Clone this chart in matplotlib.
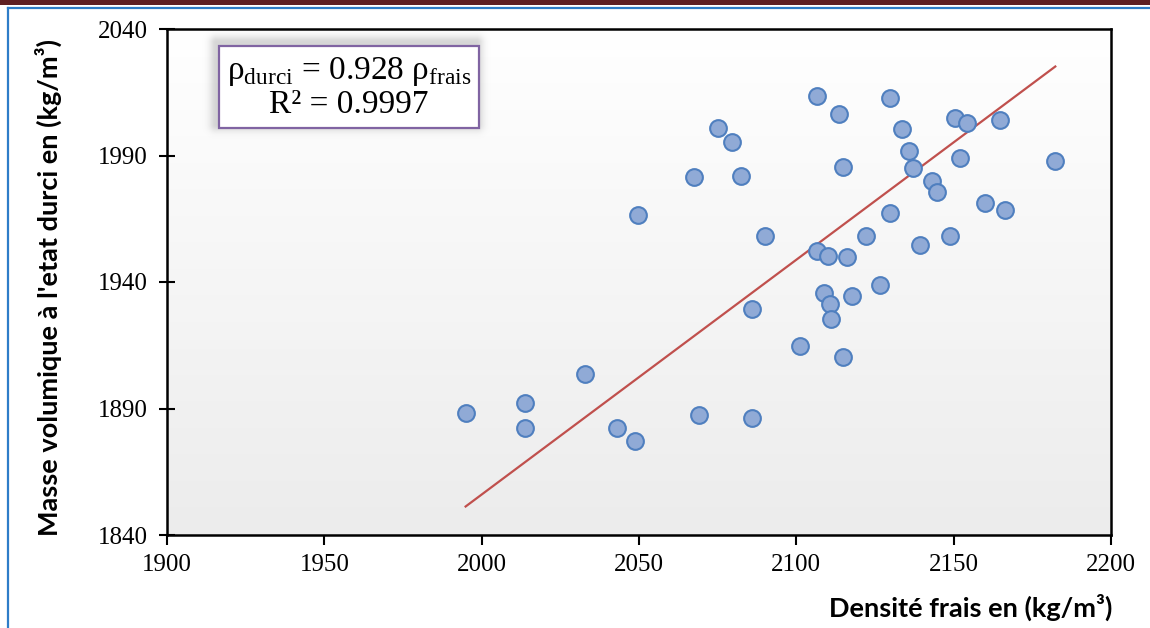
import numpy as np
import matplotlib
matplotlib.use("Agg")
import matplotlib.pyplot as plt
from matplotlib.patches import Rectangle
from matplotlib.lines import Line2D

# densité à l'état frais (kg/m3)
rho_frais = [1994.9, 2013.8, 2013.8, 2032.9, 2042.9, 2048.7, 2049.6, 2067.5, 2069.0,
             2075.2, 2079.6, 2082.3, 2085.8, 2085.9, 2090.0, 2101.2, 2106.5, 2106.5,
             2108.8, 2110.2, 2110.7, 2111.0, 2113.6, 2114.9, 2114.8, 2116.0, 2117.8,
             2122.1, 2126.6, 2129.7, 2129.7, 2133.5, 2135.7, 2137.0, 2139.3, 2143.0,
             2144.6, 2148.7, 2150.4, 2152.0, 2154.1, 2160.0, 2164.7, 2166.2, 2182.3]
# masse volumique à l'état durci (kg/m3)
rho_durci = [1888.1, 1892.3, 1882.2, 1903.8, 1882.3, 1877.0, 1966.5, 1981.4, 1887.4,
             2001.0, 1995.2, 1981.8, 1929.2, 1886.4, 1958.3, 1914.8, 2013.6, 1952.3,
             1935.5, 1950.3, 1931.3, 1925.4, 2006.3, 1985.6, 1910.4, 1949.8, 1934.5,
             1958.2, 1938.7, 2012.6, 1967.2, 2000.4, 1991.9, 1985.2, 1954.5, 1979.9,
             1975.5, 1958.2, 2004.7, 1988.9, 2002.7, 1971.3, 2004.0, 1968.3, 1987.8]

slope = 0.928
r2 = 0.9997
x_ticks = [1900, 1950, 2000, 2050, 2100, 2150, 2200]
y_ticks = [1840, 1890, 1940, 1990, 2040]

W, H = 1150, 628
plt.rcParams['mathtext.fontset'] = 'custom'
plt.rcParams['mathtext.rm'] = 'Liberation Serif'

fig = plt.figure(figsize=(W / 100, H / 100), dpi=100)
fig.patch.set_facecolor('white')

# cadre de la page : bande bordeaux + filet bleu
fig.patches.append(Rectangle((0, 1 - 5 / H), 1, 5 / H, transform=fig.transFigure,
                             facecolor='#5E1F22', edgecolor='none', zorder=0))
fig.lines.append(Line2D([7.5 / W, 1], [1 - 7.5 / H, 1 - 7.5 / H], transform=fig.transFigure,
                        color='#2E7DC8', lw=1.6))
fig.lines.append(Line2D([7.5 / W, 7.5 / W], [0, 1 - 7.5 / H], transform=fig.transFigure,
                        color='#2E7DC8', lw=1.6))

ax = fig.add_axes([167 / W, (H - 535) / H, 944 / W, 506 / H])

# fond dégradé blanc -> gris clair
grad = np.linspace(0, 1, 256).reshape(-1, 1)
ax.imshow(grad, cmap=matplotlib.colors.LinearSegmentedColormap.from_list('g', ['#ECECEC', '#FFFFFF']),
          extent=[0, 1, 0, 1], transform=ax.transAxes, aspect='auto', origin='lower', zorder=0)

xs = np.array([min(rho_frais), max(rho_frais)])
ax.plot(xs, slope * xs, color='#C0504D', lw=1.6, zorder=2)
ax.scatter(rho_frais, rho_durci, s=145, facecolor='#90AAD6', edgecolor='#4F7FBF',
           linewidth=1.5, zorder=3)

ax.set_xlim(1900, 2200)
ax.set_ylim(1840, 2040)
ax.set_xticks(x_ticks)
ax.set_yticks(y_ticks)
for sp in ax.spines.values():
    sp.set_linewidth(1.8)
    sp.set_color('black')
ax.tick_params(axis='x', direction='out', length=7, width=1.5, pad=7)
ax.tick_params(axis='y', direction='inout', length=12, width=1.5, pad=8)
for lbl in ax.get_xticklabels() + ax.get_yticklabels():
    lbl.set_fontfamily('Liberation Serif')
    lbl.set_fontsize(18)

# ombre floue + encadré de l'équation
bx0, bx1, by0, by1 = 219, 479, 46, 128
sh = np.zeros((160, 340, 4))
yy, xx = np.mgrid[0:160, 0:340]
px = xx + 185 + 3
py = yy + 10 + 4
dx = np.maximum(np.maximum(bx0 - px, px - bx1), 0)
dy = np.maximum(np.maximum(by0 - py, py - by1), 0)
d = np.hypot(dx, dy)
sh[..., :3] = 0.55
sh[..., 3] = 0.35 * np.exp(-(d / 7.0) ** 2)
ax.imshow(sh, extent=[(185 - 167) / 944, (525 - 167) / 944, (535 - 170) / 506, (535 - 10) / 506],
          transform=ax.transAxes, aspect='auto', origin='upper', zorder=4)
ax.add_patch(Rectangle(((bx0 - 167) / 944, (535 - by1) / 506), (bx1 - bx0) / 944, (by1 - by0) / 506,
                       transform=ax.transAxes, facecolor='white', edgecolor='#8064A2',
                       lw=1.6, zorder=5))
ax.text((349 - 167) / 944, (535 - 71) / 506,
        r'ρ$_{\mathrm{durci}}$ = ' + f'{slope:.3f}' + r' ρ$_{\mathrm{frais}}$',
        transform=ax.transAxes, ha='center', va='center', fontsize=24,
        fontfamily='Liberation Serif', zorder=6)
ax.text((349 - 167) / 944, (535 - 105) / 506, f'R² = {r2}',
        transform=ax.transAxes, ha='center', va='center', fontsize=24,
        fontfamily='Liberation Serif', zorder=6)

fig.text(1112 / W, (H - 607) / H, 'Densité frais en (kg/m³)', ha='right', va='center',
         fontsize=19.5, fontweight='bold', fontfamily='Lato')
fig.text(48 / W, (H - 287) / H, "Masse volumique à l'etat durci en (kg/m³)", ha='center',
         va='center', rotation=90, fontsize=19.5, fontweight='bold', fontfamily='Lato')

fig.savefig('out.png', dpi=100)
